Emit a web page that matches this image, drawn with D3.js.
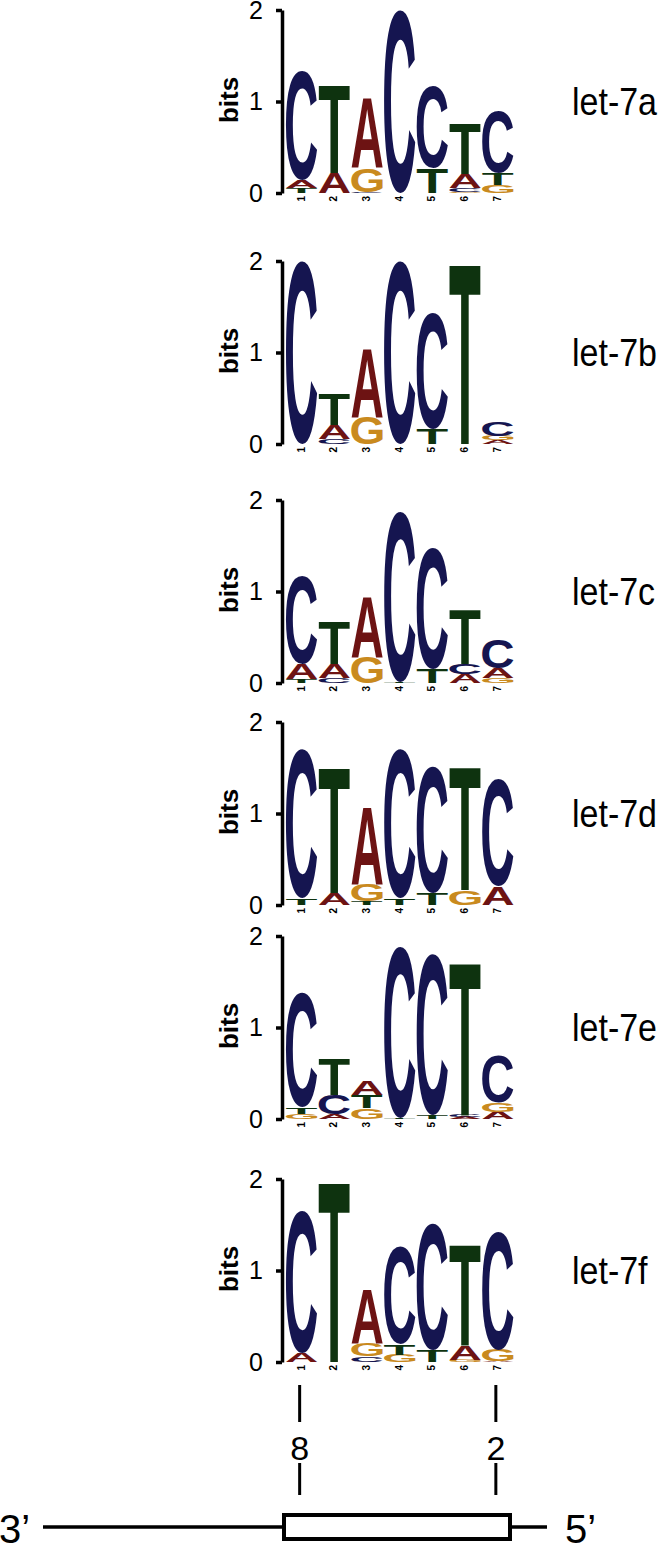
<!DOCTYPE html>
<html>
<head>
<meta charset="utf-8">
<script src="https://cdn.jsdelivr.net/npm/d3@7"></script>
<style>
body { margin: 0; background: #fff; }
svg { display: block; }
</style>
</head>
<body>
<script>
// logo positions and panel names
var positions = [1, 2, 3, 4, 5, 6, 7];
var names = ["let-7a", "let-7b", "let-7c", "let-7d", "let-7e", "let-7f"];
var yTicks = [0, 1, 2];

// each column is a stack from bottom to top: [base, bits]
var let7a = [
  [["T", 0.05], ["A", 0.09], ["C", 1.19]],
  [["A", 0.22], ["T", 0.96]],
  [["C", 0.01], ["G", 0.26], ["A", 0.77]],
  [["C", 2.0]],
  [["T", 0.27], ["C", 0.89]],
  [["G", 0.01], ["C", 0.04], ["A", 0.16], ["T", 0.55]],
  [["G", 0.09], ["T", 0.13], ["C", 0.67]]
];
var let7b = [
  [["C", 2.0]],
  [["C", 0.06], ["A", 0.15], ["T", 0.34]],
  [["G", 0.30], ["A", 0.75]],
  [["C", 2.0]],
  [["T", 0.17], ["C", 1.26]],
  [["T", 1.98]],
  [["A", 0.04], ["G", 0.05], ["C", 0.15]]
];
var let7c = [
  [["T", 0.04], ["A", 0.17], ["C", 0.97]],
  [["C", 0.06], ["A", 0.15], ["T", 0.47]],
  [["G", 0.28], ["A", 0.66]],
  [["T", 0.01], ["C", 1.86]],
  [["T", 0.16], ["C", 1.32]],
  [["A", 0.10], ["C", 0.11], ["T", 0.60]],
  [["G", 0.05], ["A", 0.11], ["C", 0.31]]
];
var let7d = [
  [["T", 0.07], ["C", 1.63]],
  [["A", 0.13], ["T", 1.38]],
  [["T", 0.04], ["G", 0.18], ["A", 0.85]],
  [["T", 0.07], ["C", 1.63]],
  [["T", 0.13], ["C", 1.38]],
  [["G", 0.16], ["T", 1.35]],
  [["A", 0.20], ["C", 1.16]]
];
var let7e = [
  [["G", 0.06], ["T", 0.07], ["C", 1.25]],
  [["A", 0.05], ["C", 0.21], ["T", 0.39]],
  [["G", 0.12], ["T", 0.14], ["A", 0.16]],
  [["T", 0.01], ["C", 1.87]],
  [["T", 0.04], ["C", 1.76]],
  [["A", 0.02], ["C", 0.02], ["T", 1.67]],
  [["A", 0.08], ["G", 0.10], ["C", 0.52]]
];
var let7f = [
  [["A", 0.10], ["C", 1.56]],
  [["T", 1.98]],
  [["C", 0.06], ["G", 0.14], ["A", 0.60]],
  [["G", 0.08], ["T", 0.11], ["C", 1.06]],
  [["T", 0.13], ["C", 1.38]],
  [["G", 0.02], ["A", 0.16], ["T", 1.11]],
  [["A", 0.01], ["G", 0.13], ["C", 1.30]]
];
var logos = [let7a, let7b, let7c, let7d, let7e, let7f];

// seed-site annotation
var siteLabels = ["8", "2"];
var sitePositions = [1, 7];
var endLabels = ["3’", "5’"];

var colors = { A: "#6d1313", C: "#151550", G: "#c98a1e", T: "#0e330f" };
var font = "'Liberation Sans', Arial, Helvetica, sans-serif";

var svg = d3.select("body").append("svg")
  .attr("width", 662)
  .attr("height", 1544);

var baselines = [193, 444, 683, 905, 1119, 1362];
var logoH = 183;

var x = d3.scaleBand().domain(positions).range([285.3, 514.2])
  .paddingInner(0.04).paddingOuter(0.02);
var y = d3.scaleLinear().domain([0, 2]).range([logoH, 0]);

// tight glyph bounds so letters can be stretched to their stack height
var ctx = document.createElement("canvas").getContext("2d");
ctx.font = "bold 100px 'Liberation Sans'";
var glyph = {};
"ACGT".split("").forEach(function(c) {
  var m = ctx.measureText(c);
  glyph[c] = {
    l: -m.actualBoundingBoxLeft, r: m.actualBoundingBoxRight,
    t: -m.actualBoundingBoxAscent, b: m.actualBoundingBoxDescent
  };
});

logos.forEach(function(logo, i) {
  var g = svg.append("g")
    .attr("transform", "translate(0," + (baselines[i] - logoH) + ")");

  // letters
  logo.forEach(function(stack, j) {
    var cum = 0;
    var x0 = x(positions[j]), w = x.bandwidth();
    stack.forEach(function(d) {
      var y0 = y(cum), y1 = y(cum + d[1]);
      cum += d[1];
      var h = y0 - y1;
      var gb = glyph[d[0]];
      var sx = w / (gb.r - gb.l), sy = h / (gb.b - gb.t);
      g.append("text")
        .attr("transform", "translate(" + (x0 - gb.l * sx) + "," + (y0 - gb.b * sy) + ") scale(" + sx + "," + sy + ")")
        .style("font-family", "'Liberation Sans'")
        .style("font-weight", "bold")
        .style("font-size", "100px")
        .attr("fill", colors[d[0]])
        .text(d[0]);
    });
  });

  // axis
  var ax = g.append("g")
    .attr("transform", "translate(282,0)")
    .call(d3.axisLeft(y).tickValues(yTicks).tickFormat(d3.format("d"))
      .tickSize(6).tickSizeOuter(0).tickPadding(13));
  ax.select(".domain").attr("stroke-width", 3.5);
  ax.selectAll(".tick line").attr("stroke-width", 3.5);
  ax.selectAll(".tick text")
    .style("font-family", font)
    .style("font-size", "25px")
    .attr("fill", "#000");

  // position numbers
  g.selectAll(".pos")
    .data(positions)
    .enter().append("text")
    .attr("transform", function(d) {
      return "translate(" + (x(d) + x.bandwidth() / 2 + 3) + "," + (logoH + 3) + ") rotate(-90)";
    })
    .attr("text-anchor", "end")
    .style("font-family", font)
    .style("font-weight", "bold")
    .style("font-size", "10px")
    .text(function(d) { return d; });

  // y label
  g.append("text")
    .attr("transform", "translate(238," + (logoH - 93) + ") rotate(-90)")
    .attr("text-anchor", "middle")
    .style("font-family", font)
    .style("font-weight", "bold")
    .style("font-size", "26px")
    .text("bits");

  // panel name
  g.append("text")
    .attr("transform", "translate(572," + (logoH - 78) + ") scale(1,1.15)")
    .style("font-family", font)
    .style("font-size", "34px")
    .text(names[i]);
});

// seed-site diagram
var site = svg.append("g");
sitePositions.forEach(function(p, k) {
  var cx = x(p) + x.bandwidth() / 2 - 2;
  site.append("line").attr("x1", cx).attr("x2", cx).attr("y1", 1385).attr("y2", 1422)
    .attr("stroke", "#000").attr("stroke-width", 3);
  site.append("line").attr("x1", cx).attr("x2", cx).attr("y1", 1463).attr("y2", 1495)
    .attr("stroke", "#000").attr("stroke-width", 3);
  site.append("text")
    .attr("x", cx).attr("y", 1460)
    .attr("text-anchor", "middle")
    .style("font-family", font)
    .style("font-size", "34px")
    .text(siteLabels[k]);
});

site.append("line").attr("x1", 43).attr("x2", 283).attr("y1", 1527).attr("y2", 1527)
  .attr("stroke", "#000").attr("stroke-width", 3.5);
site.append("line").attr("x1", 511).attr("x2", 547).attr("y1", 1527).attr("y2", 1527)
  .attr("stroke", "#000").attr("stroke-width", 3.5);
site.append("rect").attr("x", 284).attr("y", 1515).attr("width", 226).attr("height", 24)
  .attr("fill", "#fff").attr("stroke", "#000").attr("stroke-width", 4);

site.append("text")
  .attr("x", -1).attr("y", 1543)
  .style("font-family", font)
  .style("font-size", "40px")
  .text(endLabels[0]);
site.append("text")
  .attr("x", 565).attr("y", 1543)
  .style("font-family", font)
  .style("font-size", "40px")
  .text(endLabels[1]);
</script>
</body>
</html>
